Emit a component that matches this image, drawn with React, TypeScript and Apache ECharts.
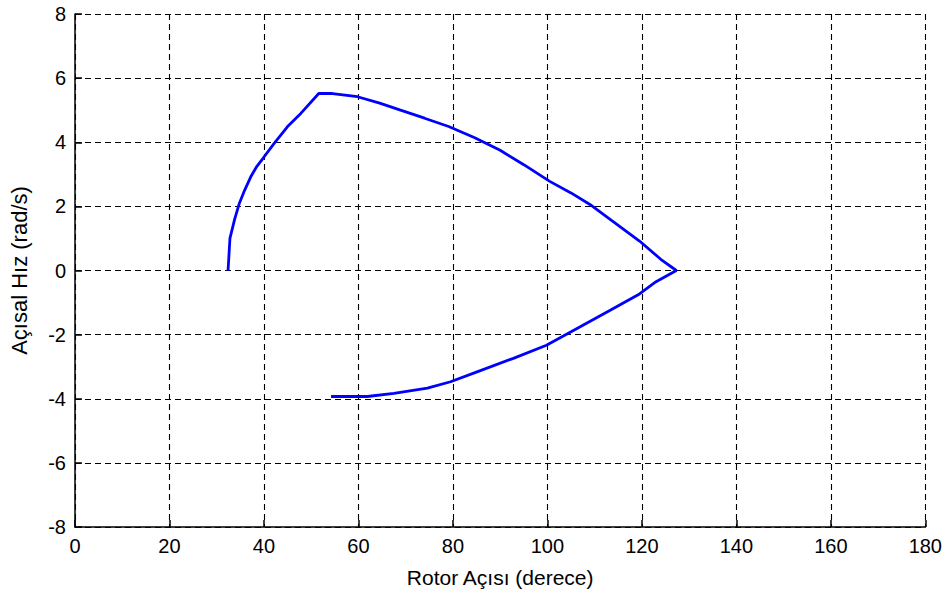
import React, { useEffect, useRef } from "react";
import * as echarts from "echarts";

const rotorAngle: number[] = [
  32.4, 32.6, 32.8, 33.8, 34.8, 35.9, 37.3, 38.5, 39.8, 42.2, 45.0, 47.8, 51.6,
  54.5, 59.8, 64.5, 68.9, 74.0, 79.1, 84.5, 90.0, 95.0, 100.5, 105.0, 109.0,
  114.0, 119.5, 124.0, 127.3, 123.0, 119.5, 113.2, 105.5, 99.8, 92.8, 85.1,
  79.5, 74.6, 67.5, 61.9, 54.2,
];
const angularSpeed: number[] = [
  0.0, 0.5, 1.0, 1.6, 2.1, 2.5, 2.95, 3.25, 3.5, 3.97, 4.49, 4.9, 5.52, 5.52,
  5.42, 5.22, 5.0, 4.75, 4.49, 4.15, 3.75, 3.3, 2.78, 2.42, 2.06, 1.52, 0.92,
  0.35, 0.0, -0.35, -0.73, -1.25, -1.87, -2.33, -2.74, -3.16, -3.47, -3.67,
  -3.83, -3.93, -3.93,
];
const xTitle = "Rotor Açısı (derece)";
const yTitle = "Açısal Hız (rad/s)";

const FONT = "'Liberation Sans', Arial, sans-serif";

export default function App() {
  const ref = useRef<HTMLDivElement>(null);
  useEffect(() => {
    if (!ref.current) return;
    const chart = echarts.init(ref.current, null, { renderer: "svg" });
    const data = rotorAngle.map((x, i) => [x, angularSpeed[i]]);
    const splitLine = {
      show: true,
      lineStyle: { color: "#000", width: 1.1, type: [6, 4] as any },
    };
    chart.setOption({
      animation: false,
      backgroundColor: "#fff",
      grid: { left: 73, right: 18, top: 14, bottom: 63, containLabel: false },
      xAxis: {
        type: "value",
        min: 0,
        max: 180,
        interval: 20,
        name: xTitle,
        nameLocation: "middle",
        nameGap: 40,
        nameTextStyle: { fontFamily: FONT, fontSize: 21, color: "#000" },
        axisLine: { show: true, onZero: false, lineStyle: { color: "#000", width: 1.5 } },
        axisTick: { show: true, inside: true, length: 7, lineStyle: { color: "#000", width: 1.5 } },
        axisLabel: { fontFamily: FONT, fontSize: 20, color: "#000", margin: 9 },
        splitLine,
      },
      yAxis: {
        type: "value",
        min: -8,
        max: 8,
        interval: 2,
        name: yTitle,
        nameLocation: "middle",
        nameGap: 45,
        nameTextStyle: { fontFamily: FONT, fontSize: 22, color: "#000" },
        axisLine: { show: true, onZero: false, lineStyle: { color: "#000", width: 1.5 } },
        axisTick: { show: true, inside: true, length: 7, lineStyle: { color: "#000", width: 1.5 } },
        axisLabel: { fontFamily: FONT, fontSize: 20, color: "#000", margin: 9 },
        splitLine,
      },
      series: [
        {
          type: "line",
          data,
          showSymbol: false,
          smooth: false,
          lineStyle: { color: "#0000ff", width: 2.8 },
        },
      ],
    });
    return () => chart.dispose();
  }, []);
  return <div ref={ref} style={{ width: 945, height: 593, position: "absolute", left: 0, top: 0 }} />;
}
